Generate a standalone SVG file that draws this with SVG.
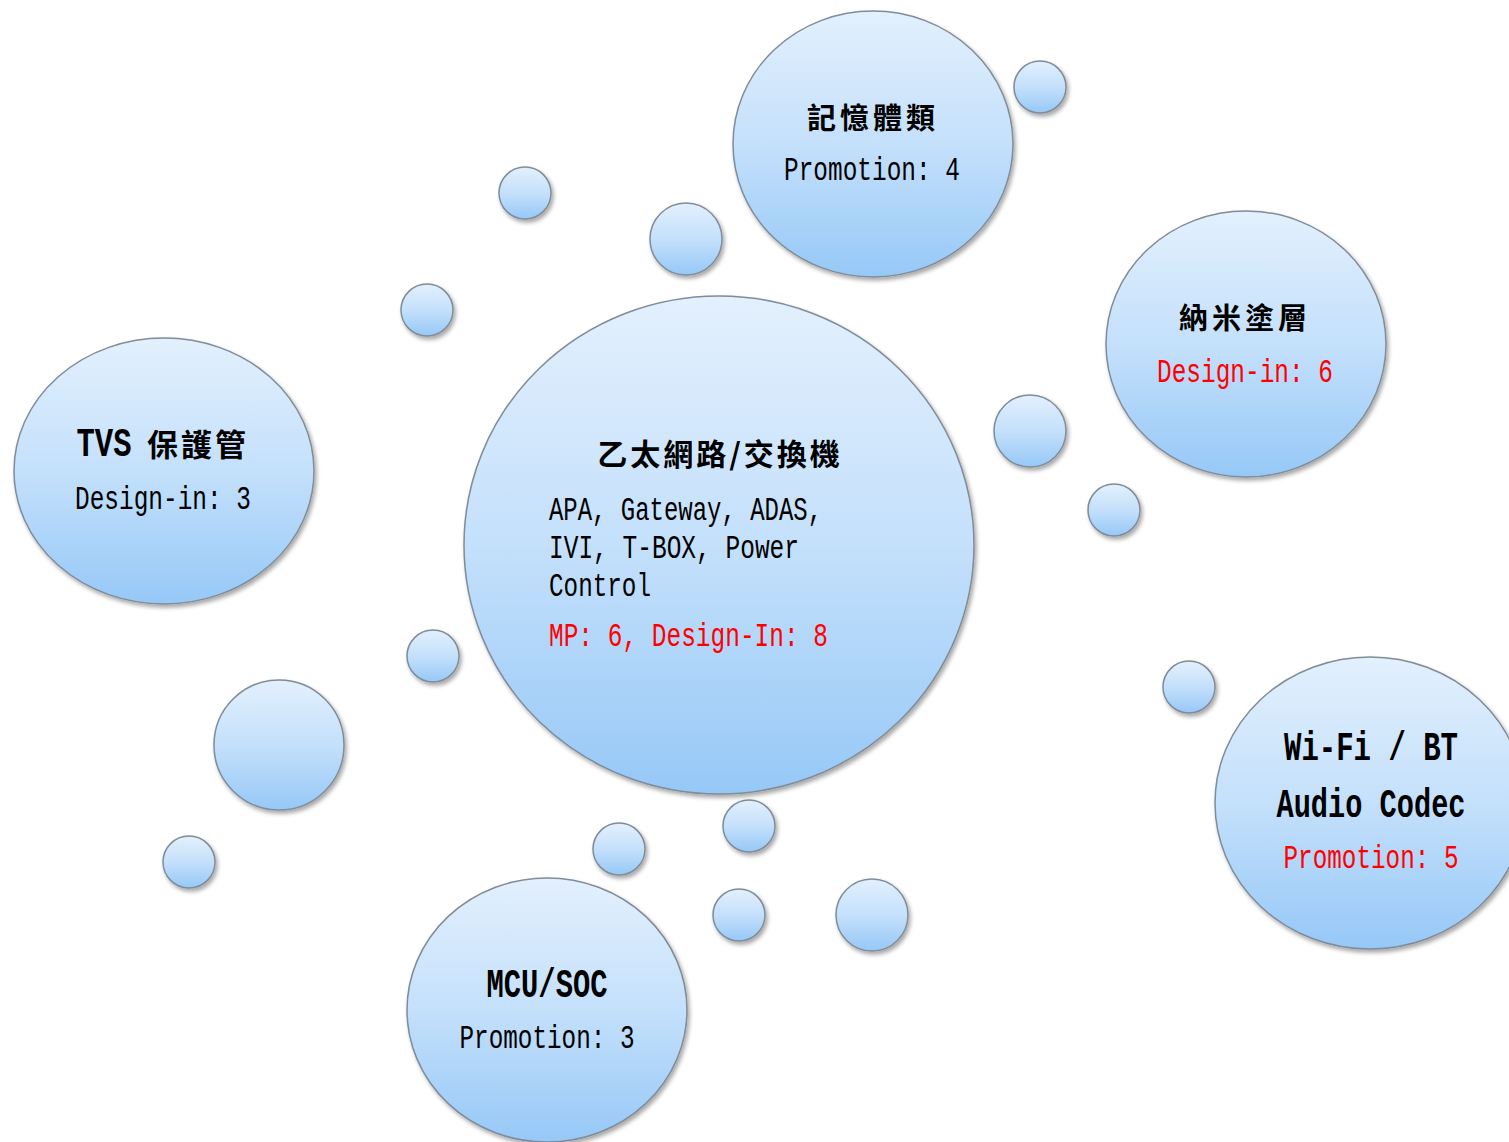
<svg xmlns="http://www.w3.org/2000/svg" width="1509" height="1142" viewBox="0 0 1509 1142">
<style>
.b{fill:url(#g);stroke:#7f8c99;stroke-width:1.5;filter:url(#sh)}
.t{font-family:"Liberation Mono","Noto Sans CJK TC",monospace;font-weight:bold;fill:#000;text-anchor:middle;font-size:40px}
.cj{font-family:"Noto Sans CJK TC","Liberation Mono",sans-serif;font-weight:bold;fill:#000;text-anchor:middle}
.s{font-family:"Liberation Mono","Noto Sans CJK TC",monospace;font-size:34px;fill:#000}
.m{text-anchor:middle}
.r{fill:#ff0000}
</style>
<defs>
<linearGradient id="g" x1="0" y1="0" x2="0" y2="1">
<stop offset="0" stop-color="#e3f0fd"/>
<stop offset="0.5" stop-color="#c4e0fb"/>
<stop offset="1" stop-color="#96c8f7"/>
</linearGradient>
<filter id="sh" x="-10%" y="-10%" width="125%" height="125%">
<feGaussianBlur in="SourceAlpha" stdDeviation="2"/>
<feOffset dx="2" dy="3" result="o"/>
<feComponentTransfer><feFuncA type="linear" slope="0.35"/></feComponentTransfer>
<feMerge><feMergeNode/><feMergeNode in="SourceGraphic"/></feMerge>
</filter>
</defs>
<rect width="1509" height="1142" fill="#ffffff"/>
<g id="connectors"></g>
<g id="bubbles">
<circle class="b" cx="1040" cy="87" r="26"/>
<circle class="b" cx="525" cy="193" r="26"/>
<circle class="b" cx="686" cy="239" r="36"/>
<circle class="b" cx="427" cy="310" r="26"/>
<circle class="b" cx="1030" cy="431" r="36"/>
<circle class="b" cx="1114" cy="510" r="26"/>
<circle class="b" cx="433" cy="656" r="26"/>
<circle class="b" cx="279" cy="745" r="65"/>
<circle class="b" cx="189" cy="862" r="26"/>
<circle class="b" cx="1189" cy="687" r="26"/>
<circle class="b" cx="749" cy="826" r="26"/>
<circle class="b" cx="619" cy="849" r="26"/>
<circle class="b" cx="739" cy="915" r="26"/>
<circle class="b" cx="872" cy="915" r="36"/>
</g>
<g id="center">
<ellipse class="b" cx="719" cy="545" rx="255" ry="249"/>
<text class="cj" x="720" y="465" font-size="30" letter-spacing="3">乙太網路/交換機</text>
<text class="s" x="549" y="520" textLength="273" lengthAdjust="spacingAndGlyphs">APA, Gateway, ADAS,</text>
<text class="s" x="549" y="558" textLength="250" lengthAdjust="spacingAndGlyphs">IVI, T-BOX, Power</text>
<text class="s" x="549" y="596" textLength="102" lengthAdjust="spacingAndGlyphs">Control</text>
<text class="s r" x="549" y="646" textLength="279" lengthAdjust="spacingAndGlyphs">MP: 6, Design-In: 8</text>
</g>
<g id="memory">
<ellipse class="b" cx="873" cy="144" rx="140" ry="133"/>
<text class="cj" x="873" y="129" font-size="29" letter-spacing="4">記憶體類</text>
<text class="s m" x="872" y="180" textLength="176" lengthAdjust="spacingAndGlyphs">Promotion: 4</text>
</g>
<g id="nano">
<ellipse class="b" cx="1246" cy="344" rx="140" ry="133"/>
<text class="cj" x="1245" y="329" font-size="29" letter-spacing="4">納米塗層</text>
<text class="s m r" x="1245" y="382" textLength="176" lengthAdjust="spacingAndGlyphs">Design-in: 6</text>
</g>
<g id="tvs">
<ellipse class="b" cx="164" cy="471" rx="150" ry="133"/>
<text class="t" x="104" y="456" textLength="55" lengthAdjust="spacingAndGlyphs">TVS</text>
<text class="cj" x="198" y="456" font-size="31" letter-spacing="3">保護管</text>
<text class="s m" x="163" y="509" textLength="176" lengthAdjust="spacingAndGlyphs">Design-in: 3</text>
</g>
<g id="wifi">
<ellipse class="b" cx="1370" cy="803" rx="155" ry="146"/>
<text class="t" x="1371" y="760" textLength="174" lengthAdjust="spacingAndGlyphs">Wi-Fi / BT</text>
<text class="t" x="1371" y="817" textLength="189" lengthAdjust="spacingAndGlyphs">Audio Codec</text>
<text class="s m r" x="1371" y="868" textLength="175" lengthAdjust="spacingAndGlyphs">Promotion: 5</text>
</g>
<g id="mcu">
<ellipse class="b" cx="547" cy="1010" rx="140" ry="132"/>
<text class="t" x="547" y="997" textLength="121" lengthAdjust="spacingAndGlyphs">MCU/SOC</text>
<text class="s m" x="547" y="1048" textLength="175" lengthAdjust="spacingAndGlyphs">Promotion: 3</text>
</g>
</svg>
